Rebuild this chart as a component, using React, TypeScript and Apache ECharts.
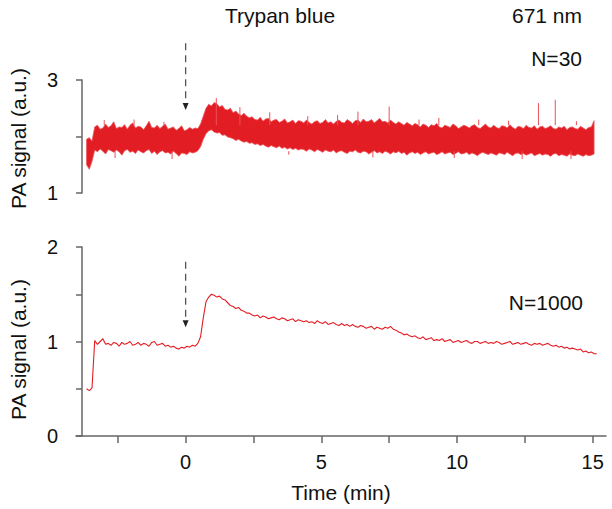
import React, { useEffect, useRef } from "react";
import * as echarts from "echarts";

// sampling of the traces (minutes)
const T0 = -3.65;
const DT = 0.1;

// N=30 trace: upper and lower edge of the noisy band (a.u.)
const n30Upper = [
  1.95, 1.98, 1.92, 2.17, 2.2, 2.13, 2.15, 2.22, 2.16, 2.19,
  2.26, 2.14, 2.17, 2.16, 2.21, 2.13, 2.2, 2.24, 2.15, 2.18,
  2.17, 2.12, 2.19, 2.27, 2.16, 2.15, 2.2, 2.14, 2.18, 2.22,
  2.13, 2.15, 2.17, 2.11, 2.14, 2.19, 2.1, 2.12, 2.16, 2.13,
  2.15, 2.14, 2.22, 2.36, 2.5, 2.57, 2.54, 2.6, 2.58, 2.52,
  2.55, 2.48, 2.47, 2.5, 2.42, 2.45, 2.4, 2.37, 2.41, 2.36,
  2.33, 2.35, 2.3, 2.29, 2.34, 2.27, 2.31, 2.32, 2.26, 2.29,
  2.3, 2.25, 2.27, 2.31, 2.24, 2.26, 2.29, 2.23, 2.28, 2.27,
  2.24, 2.29, 2.25, 2.22, 2.26, 2.28, 2.23, 2.25, 2.3, 2.24,
  2.26, 2.22, 2.27, 2.29, 2.25, 2.24, 2.3, 2.27, 2.23, 2.28,
  2.29, 2.25, 2.31, 2.26, 2.27, 2.3, 2.24, 2.28, 2.32, 2.26,
  2.27, 2.24, 2.29, 2.25, 2.22, 2.26, 2.23, 2.2, 2.25, 2.22,
  2.19, 2.23, 2.21, 2.17, 2.22, 2.2, 2.16, 2.21, 2.19, 2.23,
  2.17, 2.15, 2.2, 2.18, 2.16, 2.22, 2.19, 2.14, 2.17, 2.2,
  2.18, 2.15, 2.19, 2.21, 2.16, 2.14, 2.18, 2.22, 2.17, 2.15,
  2.2, 2.16, 2.14, 2.19, 2.18, 2.15, 2.21, 2.16, 2.13, 2.18,
  2.17, 2.14, 2.2, 2.16, 2.15, 2.19, 2.13, 2.17, 2.18, 2.14,
  2.16, 2.19, 2.14, 2.13, 2.17, 2.15, 2.18, 2.12, 2.16, 2.17,
  2.14, 2.13, 2.18, 2.15, 2.12, 2.16, 2.17, 2.28,
];
const n30Lower = [
  1.5, 1.42, 1.56, 1.76, 1.73, 1.78, 1.74, 1.69, 1.77, 1.75,
  1.72, 1.76, 1.73, 1.67, 1.75, 1.77, 1.72, 1.74, 1.7, 1.76,
  1.73, 1.71, 1.75, 1.77, 1.7, 1.74, 1.68, 1.73, 1.75, 1.71,
  1.72, 1.69, 1.74, 1.7, 1.65, 1.71, 1.7, 1.68, 1.73, 1.71,
  1.72, 1.75, 1.82, 1.95, 2.05, 2.1, 2.12, 2.08, 2.06, 2.07,
  2.02, 2.03, 1.99, 1.98, 1.96, 1.93, 1.95, 1.92, 1.9, 1.91,
  1.88, 1.89, 1.86, 1.87, 1.84, 1.86, 1.83, 1.81, 1.84, 1.82,
  1.8, 1.83, 1.79, 1.81, 1.78, 1.8, 1.77, 1.79, 1.76, 1.78,
  1.77, 1.74, 1.78, 1.76, 1.73, 1.77, 1.75, 1.72, 1.76, 1.74,
  1.73, 1.76, 1.71, 1.74, 1.75, 1.72, 1.7, 1.74, 1.73, 1.76,
  1.72, 1.71, 1.74, 1.73, 1.69, 1.72, 1.75, 1.71, 1.73, 1.7,
  1.74, 1.72, 1.69, 1.73, 1.71, 1.74, 1.7, 1.72, 1.67, 1.71,
  1.73, 1.7, 1.72, 1.68, 1.71, 1.73, 1.69, 1.71, 1.72, 1.68,
  1.7, 1.73, 1.69, 1.71, 1.72, 1.68, 1.7, 1.73, 1.69, 1.7,
  1.72, 1.68, 1.71, 1.69, 1.66, 1.7, 1.72, 1.7, 1.68, 1.71,
  1.69, 1.67, 1.71, 1.7, 1.68, 1.72, 1.69, 1.66, 1.7, 1.71,
  1.68, 1.7, 1.67, 1.69, 1.71, 1.66, 1.68, 1.7, 1.67, 1.69,
  1.68, 1.65, 1.69, 1.7, 1.66, 1.68, 1.67, 1.65, 1.69, 1.67,
  1.66, 1.69, 1.67, 1.65, 1.68, 1.66, 1.67, 1.69,
];
// isolated upward spikes of the N=30 trace
const spikeTimes = [-3.0, -1.9, -0.8, 1.13, 2.0, 3.1, 4.5, 5.6, 6.35, 7.5, 8.6, 9.33, 10.8, 11.9, 13.0, 13.62, 14.4];
const spikeTops = [2.29, 2.3, 2.26, 2.68, 2.52, 2.43, 2.36, 2.38, 2.44, 2.53, 2.3, 2.33, 2.3, 2.28, 2.59, 2.65, 2.27];
const spikeBase = 2.2;
// isolated downward spikes of the N=30 trace
const dipTimes = [-2.6, -0.5, 3.8, 6.9, 9.9, 12.4, 14.2];
const dipBottoms = [1.62, 1.6, 1.68, 1.63, 1.62, 1.6, 1.6];
const dipBase = 1.74;

// N=1000 trace (a.u.)
const n1000 = [
  0.5, 0.48, 0.51, 1.01, 0.97, 1.0, 1.03, 0.97, 0.98, 0.96,
  0.99, 0.98, 0.95, 0.99, 0.97, 0.98, 1.0, 0.96, 0.97, 0.99,
  0.96, 0.98, 0.97, 0.95, 0.99, 1.0, 0.96, 0.97, 0.98, 0.95,
  0.96, 0.94, 0.95, 0.93, 0.92, 0.94, 0.93, 0.95, 0.94, 0.96,
  0.95, 0.98, 1.05, 1.25, 1.42, 1.47, 1.5, 1.49, 1.47, 1.48,
  1.45, 1.44, 1.41, 1.38, 1.37, 1.35, 1.36, 1.33, 1.32, 1.3,
  1.3, 1.28, 1.27, 1.28, 1.25, 1.27, 1.26, 1.24, 1.25, 1.26,
  1.24, 1.23, 1.25, 1.24, 1.22, 1.23, 1.24, 1.21, 1.23, 1.22,
  1.21, 1.22, 1.2, 1.21, 1.19, 1.22, 1.2, 1.19, 1.21, 1.18,
  1.19, 1.2, 1.18, 1.17, 1.19, 1.17, 1.18, 1.16, 1.18, 1.16,
  1.15, 1.17, 1.16, 1.14, 1.15, 1.16, 1.13, 1.15, 1.14, 1.13,
  1.15, 1.14, 1.16, 1.13, 1.12, 1.1, 1.09, 1.07, 1.08, 1.06,
  1.05, 1.06, 1.04, 1.03, 1.05, 1.02, 1.03, 1.04, 1.01, 1.02,
  1.01, 1.03, 1.0, 1.01, 1.02, 0.99, 1.0, 1.01, 0.99, 1.0,
  1.01, 0.99, 0.98, 1.0, 1.0, 0.98, 0.99, 1.0, 0.98, 0.99,
  0.98, 1.0, 0.99, 0.97, 0.98, 0.99, 1.0, 0.97, 0.98, 0.99,
  0.97, 0.98, 0.99, 0.97, 0.96, 0.98, 0.97, 0.98, 0.96, 0.97,
  0.98, 0.96, 0.95, 0.96, 0.94, 0.95, 0.93, 0.94, 0.92, 0.93,
  0.92, 0.91, 0.92, 0.89, 0.9, 0.88, 0.89, 0.87, 0.87,
];

// axes
const X_MIN = -4.04;
const X_MAX = 15.49;
const xTicks = [-2.5, 0, 2.5, 5, 7.5, 10, 12.5, 15];
const xLabels = [0, 5, 10, 15];
const topYTicks = [1, 2, 3];
const topYLabels = [1, 3];
const botYTicks = [0, 0.5, 1, 1.5, 2];
const botYLabels = [0, 1, 2];

// injection arrows: [time, start value, tip value]
const injectionTime = 0;
const arrowTop = [injectionTime, 3.65, 2.47];
const arrowBottom = [injectionTime, 1.845, 1.15];

const RED = "#e31d24";
const SPIKE = "#ea5258";
const AXIS = "#666666";
const FONT = "'Liberation Sans', Arial, Helvetica, sans-serif";

const arrowRender = (params: any, api: any) => {
  const p0 = api.coord([api.value(0), api.value(1)]);
  const p1 = api.coord([api.value(0), api.value(2)]);
  const head = 7;
  return {
    type: "group",
    children: [
      {
        type: "line",
        shape: { x1: p0[0], y1: p0[1], x2: p1[0], y2: p1[1] - head },
        style: { stroke: "#555", lineWidth: 1.3, lineDash: [7, 5] },
      },
      {
        type: "polygon",
        shape: {
          points: [
            [p1[0] - 3, p1[1] - head],
            [p1[0] + 3, p1[1] - head],
            [p1[0], p1[1]],
          ],
        },
        style: { fill: "#222" },
      },
    ],
  };
};

const segmentRender = (params: any, api: any) => {
  const a = api.coord([api.value(0), api.value(1)]);
  const b = api.coord([api.value(0), api.value(2)]);
  return {
    type: "line",
    shape: { x1: a[0], y1: a[1], x2: b[0], y2: b[1] },
    style: { stroke: SPIKE, lineWidth: 1 },
  };
};

export default function App() {
  const ref = useRef<HTMLDivElement>(null);

  useEffect(() => {
    document.body.style.margin = "0";
    if (!ref.current) return;
    const chart = echarts.init(ref.current, null, { renderer: "svg" });

    const band = n30Upper.map((u, i) => [T0 + i * DT, n30Lower[i], u]);
    const spikes = spikeTimes
      .map((t, i) => [t, spikeBase, spikeTops[i]])
      .concat(dipTimes.map((t, i) => [t, dipBase, dipBottoms[i]]));
    const trace = n1000.map((v, i) => [T0 + i * DT, v]);

    const yAxisCommon = (min: number, max: number, ticks: number[], labels: number[], gridIndex: number, shift: number) => ({
      type: "value",
      gridIndex,
      min,
      max,
      offset: -6,
      axisLine: { show: true, onZero: false, lineStyle: { color: AXIS, width: 1.5 } },
      axisTick: { show: true, length: 6, customValues: ticks, lineStyle: { color: AXIS, width: 1.5 } },
      axisLabel: { customValues: labels, fontSize: 20, color: "#111", fontFamily: FONT, margin: 24 },
      splitLine: { show: false },
      name: "PA signal (a.u.)",
      nameLocation: "middle",
      nameGap: 53,
      nameTextStyle: { fontSize: 21, color: "#111", fontFamily: FONT, padding: [0, shift, 0, 0] },
    });

    chart.setOption({
      animation: false,
      backgroundColor: "#ffffff",
      grid: [
        { left: 73, right: 6, top: 80, height: 113 },
        { left: 73, right: 6, top: 247, height: 189 },
      ],
      xAxis: [
        { type: "value", gridIndex: 0, min: X_MIN, max: X_MAX, show: false },
        {
          type: "value",
          gridIndex: 1,
          min: X_MIN,
          max: X_MAX,
          axisLine: { show: true, onZero: false, lineStyle: { color: AXIS, width: 1.5 } },
          axisTick: { show: true, length: 7, customValues: xTicks, lineStyle: { color: AXIS, width: 1.5 } },
          axisLabel: { customValues: xLabels, fontSize: 20, color: "#111", fontFamily: FONT, margin: 16 },
          splitLine: { show: false },
          name: "Time (min)",
          nameLocation: "middle",
          nameGap: 46,
          nameTextStyle: { fontSize: 21, color: "#111", fontFamily: FONT },
        },
      ],
      yAxis: [
        yAxisCommon(1, 3, topYTicks, topYLabels, 0, 4),
        yAxisCommon(0, 2, botYTicks, botYLabels, 1, 16),
      ],
      series: [
        {
          type: "custom",
          name: "N=30",
          xAxisIndex: 0,
          yAxisIndex: 0,
          data: band,
          encode: { x: 0, y: [1, 2] },
          renderItem: (params: any, api: any) => {
            if (params.dataIndex !== 0) return null;
            const up = band.map((d) => api.coord([d[0], d[2]]));
            const lo = band.map((d) => api.coord([d[0], d[1]])).reverse();
            return {
              type: "polygon",
              shape: { points: up.concat(lo) },
              style: { fill: RED, stroke: SPIKE, lineWidth: 0.8 },
            };
          },
        },
        {
          type: "custom",
          name: "N=30 spikes",
          xAxisIndex: 0,
          yAxisIndex: 0,
          data: spikes,
          encode: { x: 0, y: [1, 2] },
          renderItem: segmentRender,
        },
        {
          type: "line",
          name: "N=1000",
          xAxisIndex: 1,
          yAxisIndex: 1,
          data: trace,
          showSymbol: false,
          symbol: "none",
          lineStyle: { color: RED, width: 1.1 },
        },
        {
          type: "custom",
          name: "arrow top",
          xAxisIndex: 0,
          yAxisIndex: 0,
          data: [arrowTop],
          encode: { x: 0, y: [1, 2] },
          renderItem: arrowRender,
        },
        {
          type: "custom",
          name: "arrow bottom",
          xAxisIndex: 1,
          yAxisIndex: 1,
          data: [arrowBottom],
          encode: { x: 0, y: [1, 2] },
          renderItem: arrowRender,
        },
      ],
      graphic: [
        { type: "text", x: 280, y: 15, style: { text: "Trypan blue", fontSize: 21, fontFamily: FONT, fill: "#111", align: "center", verticalAlign: "middle" } },
        { type: "text", x: 582, y: 15, style: { text: "671 nm", fontSize: 21, fontFamily: FONT, fill: "#111", align: "right", verticalAlign: "middle" } },
        { type: "text", x: 582, y: 58, style: { text: "N=30", fontSize: 21, fontFamily: FONT, fill: "#111", align: "right", verticalAlign: "middle" } },
        { type: "text", x: 583, y: 302, style: { text: "N=1000", fontSize: 21, fontFamily: FONT, fill: "#111", align: "right", verticalAlign: "middle" } },
      ],
    });

    return () => chart.dispose();
  }, []);

  return (
    <div
      ref={ref}
      style={{ position: "fixed", left: 0, top: 0, width: 612, height: 509, background: "#fff" }}
    />
  );
}
